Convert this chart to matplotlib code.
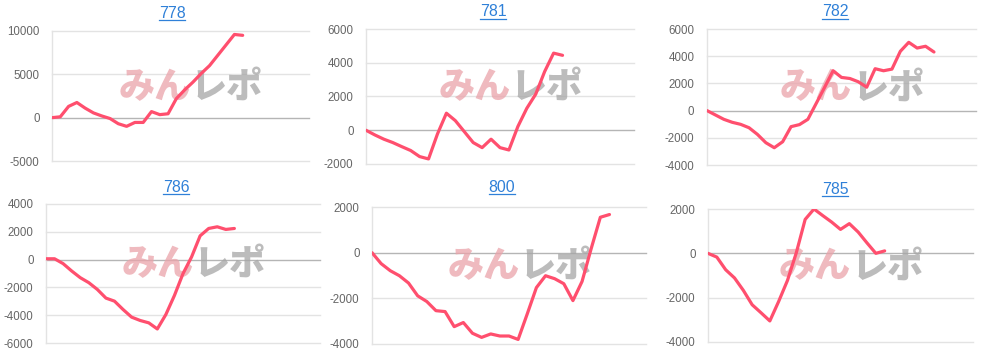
import matplotlib
matplotlib.use("Agg")
import matplotlib.pyplot as plt
from matplotlib.lines import Line2D

plt.rcParams['font.family'] = ['Liberation Sans', 'DejaVu Sans']

W, H = 984, 354

titles = ["778", "781", "782", "786", "800", "785"]

v778 = [0, 100, 1300, 1750, 1100, 550, 200, -100, -700, -1000, -550, -550, 700, 350,
        450, 2200, 3200, 4100, 5100, 6000, 7200, 8400, 9600, 9500]
v781 = [0, -280, -530, -730, -970, -1200, -1560, -1700, -220, 1010, 570, -80, -730,
        -1030, -530, -1030, -1170, 220, 1300, 2140, 3480, 4570, 4440]
v782 = [0, -320, -640, -860, -1010, -1260, -1750, -2360, -2730, -2290, -1180, -1030,
        -640, 540, 1720, 2930, 2440, 2360, 2120, 1720, 3080, 2930, 3050, 4360, 5020,
        4600, 4730, 4310]
v786 = [60, 60, -290, -820, -1300, -1660, -2150, -2770, -2990, -3590, -4140, -4380,
        -4550, -4990, -3950, -2580, -1010, 190, 1710, 2240, 2360, 2170, 2240]
v800 = [0, -480, -790, -1010, -1330, -1890, -2140, -2540, -2580, -3240, -3060, -3530,
        -3710, -3560, -3650, -3650, -3800, -2680, -1530, -1010, -1140, -1360, -2100,
        -1260, 180, 1550, 1670]
v785 = [0, -170, -740, -1110, -1670, -2320, -2680, -3050, -2170, -1220, 30, 1530,
        2000, 1700, 1410, 1080, 1340, 960, 470, 0, 110]

series = [v778, v781, v782, v786, v800, v785]
slots = [31, 30, 32, 32, 30, 30]
yticks = [
    [-5000, 0, 5000, 10000],
    [-2000, 0, 2000, 4000, 6000],
    [-4000, -2000, 0, 2000, 4000, 6000],
    [-6000, -4000, -2000, 0, 2000, 4000],
    [-4000, -2000, 0, 2000],
    [-4000, -2000, 0, 2000],
]

# axes rectangles in pixels: left, right, top, bottom
rects = [
    (52, 309, 31, 161),
    (366, 634, 29, 164),
    (707, 976, 29, 165),
    (46, 320, 204, 343),
    (372, 646, 207, 344),
    (708, 973, 209, 342),
]
title_pos = [(172, 13), (493, 12), (835, 12), (176, 187), (502, 187), (835, 189)]

LINE = '#ff4f6e'
GRID = '#e3e3e3'
ZERO = '#b5b5b5'
TICK = '#666666'
TITLE = '#2f80d8'

fig = plt.figure(figsize=(W / 100, H / 100), dpi=100)
fig.patch.set_facecolor('white')

title_texts = []
for i in range(6):
    l, r, t, b = rects[i]
    ax = fig.add_axes([l / W, 1 - b / H, (r - l) / W, (b - t) / H])
    vals = series[i]
    ax.set_xlim(0, slots[i])
    yt = yticks[i]
    ax.set_ylim(yt[0], yt[-1])
    ax.set_yticks(yt)
    ax.set_yticklabels([str(v) for v in yt])
    ax.set_xticks([])
    for s in ['top', 'right', 'bottom']:
        ax.spines[s].set_visible(False)
    ax.spines['left'].set_color(GRID)
    ax.spines['left'].set_linewidth(1)
    for v in yt:
        ax.axhline(v, color=ZERO if v == 0 else GRID, lw=1.0, zorder=1, clip_on=False)
    ax.tick_params(axis='y', length=0, pad=9, labelsize=8.3, labelcolor=TICK)
    # watermark
    ax.text(0.54, 0.57, "みん", transform=ax.transAxes, ha='right', va='center',
            fontsize=26, fontweight='black', family=['Noto Sans CJK JP'],
            color='#eaa3aa', alpha=0.75, zorder=2)
    ax.text(0.54, 0.57, "レポ", transform=ax.transAxes, ha='left', va='center',
            fontsize=26, fontweight='black', family=['Noto Sans CJK JP'],
            color='#a6a6a6', alpha=0.75, zorder=2)
    ax.plot(range(len(vals)), vals, color=LINE, lw=2.3, zorder=3,
            solid_joinstyle='round', solid_capstyle='round')
    tx, ty = title_pos[i]
    tt = fig.text(tx / W, 1 - ty / H, titles[i], ha='center', va='center',
                  fontsize=11.4, color=TITLE)
    title_texts.append(tt)

fig.canvas.draw()
renderer = fig.canvas.get_renderer()
for tt in title_texts:
    bb = tt.get_window_extent(renderer)
    y = bb.y0 + 1
    fig.add_artist(Line2D([bb.x0 / W, bb.x1 / W], [y / H, y / H],
                          transform=fig.transFigure, color=TITLE, lw=0.9))

fig.savefig("out.png", dpi=100, facecolor='white')
